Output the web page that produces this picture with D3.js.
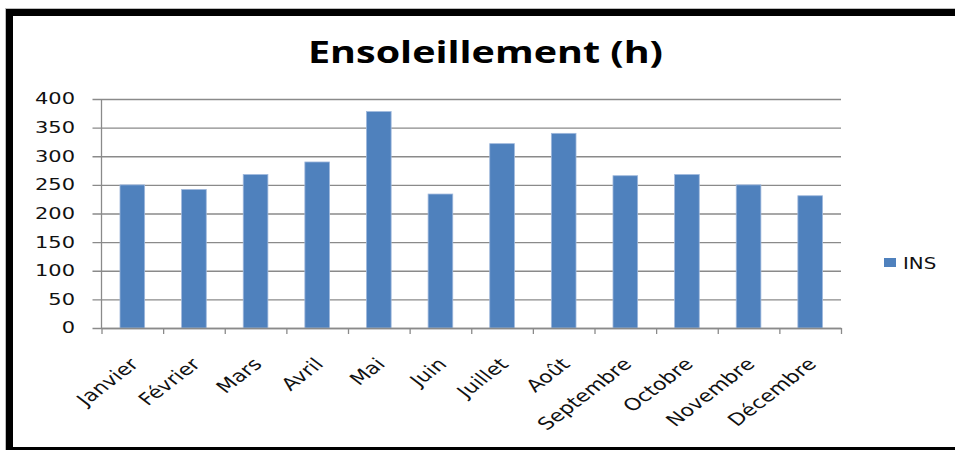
<!DOCTYPE html>
<html>
<head>
<meta charset="utf-8">
<script src="https://cdn.jsdelivr.net/npm/d3@7/dist/d3.min.js"></script>
<style>
  html, body { margin: 0; padding: 0; background: #fff; }
  svg { display: block; }
</style>
</head>
<body>
<svg id="chart" width="955" height="450"></svg>
<script>
const months = ["Janvier","Février","Mars","Avril","Mai","Juin","Juillet","Août","Septembre","Octobre","Novembre","Décembre"];
const insValues = [250, 242, 268, 290, 378, 234, 322, 340, 266, 268, 250, 231];
const yTicks = [0, 50, 100, 150, 200, 250, 300, 350, 400];
const seriesName = "INS";
const titleText = "Ensoleillement (h)";

const svg = d3.select("#chart");
const plotL = 101.5, plotR = 841, plotT = 99, plotB = 328;

const x = d3.scaleBand().domain(months).range([plotL, plotR]).paddingInner(0.6).paddingOuter(0.3);
const xb = d3.scaleLinear().domain([0, months.length]).range([plotL, plotR]);
const y = d3.scaleLinear().domain([0, 400]).range([plotB, plotT]);

// border
svg.append("rect").attr("x", 9.5).attr("y", 12.5).attr("width", 960).attr("height", 438)
  .attr("fill", "none").attr("stroke", "#000").attr("stroke-width", 7);
svg.append("rect").attr("x", 5.5).attr("y", 8.5).attr("width", 970).attr("height", 446)
  .attr("fill", "none").attr("stroke", "#bdbdbd").attr("stroke-width", 1);

// title
svg.append("text").attr("x", 308).attr("y", 62.5)
  .attr("font-family", "'Open Sans', sans-serif").attr("font-weight", "bold").attr("font-size", 30)
  .attr("textLength", 355).attr("lengthAdjust", "spacingAndGlyphs")
  .attr("fill", "#000").text(titleText);

// gridlines + outside y ticks
const gy = svg.append("g").attr("transform", `translate(${plotR},0)`)
  .call(d3.axisLeft(y).tickValues(yTicks).tickSize(plotR - plotL + 9).tickFormat(""));
gy.select(".domain").remove();
gy.selectAll(".tick line").attr("stroke", "#8a8a8a").attr("stroke-width", 1.3);

// y axis line
svg.append("line").attr("x1", plotL).attr("x2", plotL).attr("y1", plotT).attr("y2", plotB)
  .attr("stroke", "#8a8a8a").attr("stroke-width", 1.3);

// y labels
svg.append("g").selectAll("text").data(yTicks).join("text")
  .attr("transform", d => `translate(75,${y(d)}) scale(1.4,1)`)
  .attr("dy", "0.36em").attr("text-anchor", "end")
  .attr("font-family", "'DejaVu Sans', sans-serif").attr("font-size", 15)
  .attr("fill", "#111").text(d => d);

// bars
svg.append("g").selectAll("rect").data(insValues).join("rect")
  .attr("x", (d, i) => x(months[i]))
  .attr("y", d => y(d))
  .attr("width", x.bandwidth())
  .attr("height", d => y(0) - y(d))
  .attr("fill", "#4f81bd").attr("stroke", "#9fb8dc").attr("stroke-width", 0.8);

// x axis
const gx = svg.append("g").attr("transform", `translate(0,${plotB})`)
  .call(d3.axisBottom(xb).tickValues(d3.range(0, months.length + 1)).tickSize(6).tickSizeOuter(0).tickFormat(""));
gx.select(".domain").attr("stroke", "#8a8a8a").attr("stroke-width", 1.3);
gx.selectAll(".tick line").attr("stroke", "#8a8a8a").attr("stroke-width", 1.3);

// x labels
svg.append("g").selectAll("text").data(months).join("text")
  .attr("transform", d => `translate(${x(d) + x.bandwidth() / 2 + 2},${plotB + 33}) scale(1.3,1) rotate(-45)`)
  .attr("dy", "0.35em").attr("text-anchor", "end")
  .attr("font-family", "'DejaVu Sans', sans-serif").attr("font-size", 17)
  .attr("fill", "#111").text(d => d);

// legend
svg.append("rect").attr("x", 884).attr("y", 258).attr("width", 12).attr("height", 9).attr("fill", "#4f81bd");
svg.append("text").attr("transform", "translate(903,269) scale(1.24,1)")
  .attr("font-family", "'DejaVu Sans', sans-serif").attr("font-size", 16)
  .attr("fill", "#111").text(seriesName);
</script>
</body>
</html>
